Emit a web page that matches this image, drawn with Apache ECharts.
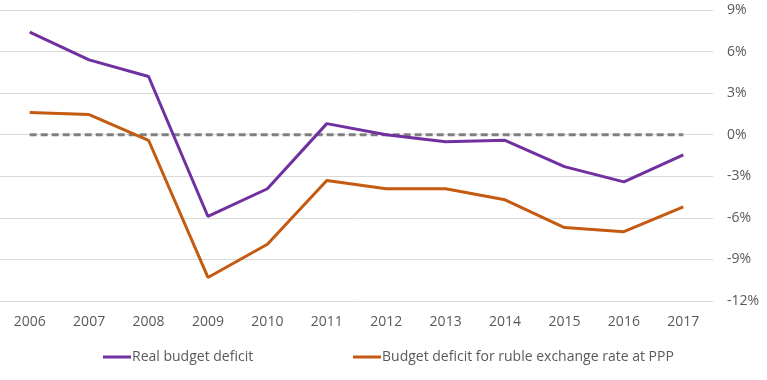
<!DOCTYPE html>
<html><head><meta charset="utf-8">
<script src="https://cdn.jsdelivr.net/npm/echarts@6/dist/echarts.min.js"></script>
<style>html,body{margin:0;padding:0;background:#fff}#c{width:767px;height:380px}</style>
</head><body><div id="c"></div>
<script>
var years = ['2006','2007','2008','2009','2010','2011','2012','2013','2014','2015','2016','2017'];
var realDeficit = [7.4, 5.4, 4.2, -5.9, -3.9, 0.8, 0.0, -0.5, -0.4, -2.3, -3.4, -1.45];
var pppDeficit = [1.6, 1.45, -0.4, -10.3, -7.9, -3.3, -3.9, -3.9, -4.7, -6.7, -7.0, -5.2];
var zeroLine = [0,0,0,0,0,0,0,0,0,0,0,0];
var seriesNames = ['Real budget deficit', 'Budget deficit for ruble exchange rate at PPP'];

var font = "'Liberation Sans Narrow','Open Sans',sans-serif";
var chart = echarts.init(document.getElementById('c'));
chart.setOption({
  animation: false,
  textStyle: {fontFamily: font},
  grid: {left: 0, right: 54, top: 10, bottom: 79},
  legend: [
    {data: [seriesNames[0]], left: 98, top: 345, icon: 'rect', itemWidth: 28, itemHeight: 3, itemGap: 4,
     textStyle: {fontFamily: font, fontSize: 14, color: '#595959', padding: [0,0,0,-4]}},
    {data: [seriesNames[1]], left: 348, top: 345, icon: 'rect', itemWidth: 28, itemHeight: 3, itemGap: 4,
     textStyle: {fontFamily: font, fontSize: 14, color: '#595959', padding: [0,0,0,-4]}}
  ],
  xAxis: {
    type: 'category', data: years, boundaryGap: true,
    axisLine: {show: false}, axisTick: {show: false},
    axisLabel: {color: '#595959', fontSize: 14, fontFamily: font, margin: 14}
  },
  yAxis: {
    type: 'value', position: 'right', min: -12, max: 9, interval: 3,
    axisLine: {show: false}, axisTick: {show: false},
    splitLine: {lineStyle: {color: '#d9d9d9', width: 1}},
    axisLabel: {color: '#595959', fontSize: 14, fontFamily: font, margin: 14,
      formatter: function(v){ return v + '%'; }}
  },
  series: [
    {name: 'zero', type: 'line', data: zeroLine, symbol: 'none', silent: true, z: 1,
     lineStyle: {color: '#808080', width: 3, type: [7, 4]}},
    {name: seriesNames[0], type: 'line', data: realDeficit, symbol: 'none', z: 3,
     itemStyle: {color: '#7030A0'}, lineStyle: {color: '#7030A0', width: 3}},
    {name: seriesNames[1], type: 'line', data: pppDeficit, symbol: 'none', z: 2,
     itemStyle: {color: '#C55A11'}, lineStyle: {color: '#C55A11', width: 3}}
  ]
});
</script></body></html>
